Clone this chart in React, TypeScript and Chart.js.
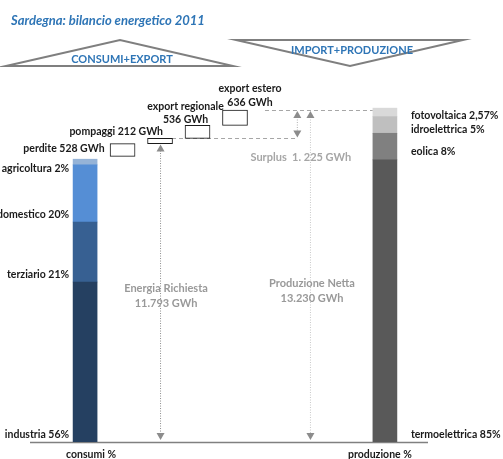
import React, { useEffect, useRef } from "react";
import { Chart, registerables } from "chart.js";

Chart.register(...registerables);

// ---------- data ----------
const titleText = "Sardegna: bilancio energetico 2011";
const leftHeader = "CONSUMI+EXPORT";
const rightHeader = "IMPORT+PRODUZIONE";
const axisLabels = ["consumi %", "produzione %"];

const energiaRichiesta = 11793; // GWh
const produzioneNetta = 13230; // GWh
const surplus = 1225; // GWh

const consumiNames = ["industria", "terziario", "domestico", "agricoltura"];
const consumiShares = [56, 21, 20, 2];

const flowNames = ["perdite", "pompaggi", "export regionale", "export estero"];
const flowValues = [528, 212, 536, 636];

const produzioneNames = ["termoelettrica", "eolica", "idroelettrica", "fotovoltaica"];
const produzioneShares = [85, 8, 5, 2.57];

// ---------- styles ----------
const consumiColors = ["#254061", "#376092", "#558ed5", "#95b3d7"];
const produzioneColors = ["#595959", "#808080", "#bfbfbf", "#d9d9d9"];
const FONT = "Lato, 'Open Sans', sans-serif";
const BLUE = "#2e75b6";
const TEXT = "#1a1a1a";

const X_CONSUMI = 0;
const X_FLOW = [1, 2, 3, 4];
const X_PROD = 8;

const fmt = (v: number) => String(Math.round(v)).replace(/\B(?=(\d{3})+(?!\d))/g, ".");
const pct = (v: number) => String(v).replace(".", ",") + "%";

// derived ranges
const flowStarts: number[] = [];
const flowEnds: number[] = [];
{
  let acc = energiaRichiesta;
  flowValues.forEach((v) => {
    flowStarts.push(acc);
    acc += v;
    flowEnds.push(acc);
  });
}
const chainTop = flowEnds[flowEnds.length - 1];

function stackRanges(shares: number[], total: number) {
  const out: [number, number][] = [];
  let acc = 0;
  shares.forEach((s) => {
    const v = (s / 100) * total;
    out.push([acc, acc + v]);
    acc += v;
  });
  return out;
}
const consumiRanges = stackRanges(consumiShares, energiaRichiesta);
const produzioneRanges = stackRanges(produzioneShares, chainTop);

function arrowHead(ctx: CanvasRenderingContext2D, x: number, y: number, dir: number, color: string) {
  ctx.save();
  ctx.fillStyle = color;
  ctx.beginPath();
  ctx.moveTo(x, y);
  ctx.lineTo(x - 4, y + dir * 7);
  ctx.lineTo(x + 4, y + dir * 7);
  ctx.closePath();
  ctx.fill();
  ctx.restore();
}

function dottedArrow(ctx: CanvasRenderingContext2D, x: number, y1: number, y2: number, lineColor: string, headColor: string) {
  ctx.save();
  ctx.strokeStyle = lineColor;
  ctx.lineWidth = 1;
  ctx.setLineDash([1, 1.5]);
  ctx.beginPath();
  ctx.moveTo(x + 0.5, y1 + 6);
  ctx.lineTo(x + 0.5, y2 - 6);
  ctx.stroke();
  ctx.restore();
  arrowHead(ctx, x + 0.5, y1, 1, headColor);
  arrowHead(ctx, x + 0.5, y2, -1, headColor);
}

const overlay = {
  id: "overlay",
  beforeDatasetsDraw(chart: any) {
    const { ctx, chartArea, scales } = chart;
    const x = scales.x;
    const y = scales.y;
    ctx.save();
    ctx.strokeStyle = "#a6a6a6";
    ctx.lineWidth = 1;
    ctx.setLineDash([4, 3]);
    // lower dashed line (top of pompaggi)
    const yl = Math.round(y.getPixelForValue(flowEnds[1])) + 0.5;
    ctx.beginPath();
    ctx.moveTo(x.getPixelForValue(X_FLOW[1]) + 12, yl);
    ctx.lineTo(x.getPixelForValue(5.65), yl);
    ctx.stroke();
    // upper dashed line (chain top)
    const yu = Math.round(y.getPixelForValue(chainTop)) + 0.5;
    ctx.beginPath();
    ctx.moveTo(x.getPixelForValue(4.8), yu);
    ctx.lineTo(x.getPixelForValue(X_PROD) - 12, yu);
    ctx.stroke();
    ctx.restore();

    // axis line
    ctx.save();
    ctx.strokeStyle = "#808080";
    ctx.lineWidth = 1.5;
    ctx.beginPath();
    ctx.moveTo(chartArea.left, chartArea.bottom + 0.5);
    ctx.lineTo(chartArea.right, chartArea.bottom + 0.5);
    ctx.stroke();
    ctx.restore();
  },
  afterDraw(chart: any) {
    const { ctx, chartArea, scales } = chart;
    const x = scales.x;
    const y = scales.y;
    ctx.save();

    // title
    ctx.font = `italic bold 13px ${FONT}`;
    ctx.fillStyle = BLUE;
    ctx.textAlign = "left";
    ctx.textBaseline = "middle";
    ctx.fillText(titleText, 11, 21);

    // header triangles
    ctx.strokeStyle = "#7f7f7f";
    ctx.lineWidth = 2;
    ctx.beginPath();
    ctx.moveTo(6, 66);
    ctx.lineTo(120, 40);
    ctx.lineTo(233, 66);
    ctx.closePath();
    ctx.stroke();
    ctx.beginPath();
    ctx.moveTo(236, 40);
    ctx.lineTo(463, 40);
    ctx.lineTo(350, 66);
    ctx.closePath();
    ctx.stroke();
    ctx.font = `bold 11px ${FONT}`;
    ctx.fillStyle = BLUE;
    ctx.textAlign = "center";
    ctx.fillText(leftHeader, 122, 59);
    ctx.fillText(rightHeader, 352, 50);

    // arrows
    const y0 = y.getPixelForValue(0);
    const xE = x.getPixelForValue(X_FLOW[1]);
    dottedArrow(ctx, xE, y.getPixelForValue(flowStarts[1]) + 1, y0 - 2, "#8c8c8c", "#8c8c8c");
    const xP = x.getPixelForValue(6);
    dottedArrow(ctx, xP, y.getPixelForValue(chainTop) + 1, y0 - 2, "#c8c8c8", "#8c8c8c");
    const xS = x.getPixelForValue(5.65);
    dottedArrow(ctx, xS, y.getPixelForValue(chainTop) + 1, y.getPixelForValue(flowEnds[1]) - 1, "#b0b0b0", "#8c8c8c");

    // grey annotations
    ctx.font = `bold 11px ${FONT}`;
    ctx.fillStyle = "#a6a6a6";
    ctx.textAlign = "center";
    ctx.fillText(`Surplus  ${fmt(surplus).replace(".", ". ")} GWh`, xS + 4, 157);
    ctx.fillStyle = "#999999";
    ctx.fillText("Energia Richiesta", xE + 6, 288);
    ctx.fillText(`${fmt(energiaRichiesta)} GWh`, xE + 6, 303);
    ctx.fillText("Produzione Netta", xP + 2, 283);
    ctx.fillText(`${fmt(produzioneNetta)} GWh`, xP + 2, 298);

    // consumi labels
    ctx.font = `bold 10.5px ${FONT}`;
    ctx.fillStyle = TEXT;
    ctx.textAlign = "right";
    const xc = x.getPixelForValue(X_CONSUMI);
    consumiNames.forEach((n, i) => {
      const top = y.getPixelForValue(consumiRanges[i][1]);
      const bot = y.getPixelForValue(consumiRanges[i][0]);
      const ly = Math.max(bot - 7, top + 9);
      ctx.fillText(`${n} ${pct(consumiShares[i])}`, xc - 16, ly);
    });

    // produzione labels
    ctx.textAlign = "left";
    const xp = x.getPixelForValue(X_PROD);
    const last = produzioneNames.length - 1;
    produzioneNames.forEach((n, i) => {
      const top = y.getPixelForValue(produzioneRanges[i][1]);
      const bot = y.getPixelForValue(produzioneRanges[i][0]);
      const mid = (top + bot) / 2;
      const ly = i === 0 ? bot - 7 : i === last ? mid + 3 : mid + 5;
      ctx.fillText(`${n} ${pct(produzioneShares[i])}`, xp + 26, ly);
    });

    // flow labels
    const fx = (i: number) => x.getPixelForValue(X_FLOW[i]);
    const ft = (i: number) => y.getPixelForValue(flowEnds[i]);
    const fb = (i: number) => y.getPixelForValue(flowStarts[i]);
    ctx.textAlign = "right";
    ctx.fillText(`${flowNames[0]} ${fmt(flowValues[0])} GWh`, fx(0) - 18, (ft(0) + fb(0)) / 2 - 1);
    ctx.fillText(`${flowNames[1]} ${fmt(flowValues[1])} GWh`, fx(1) + 3, ft(1) - 7);
    ctx.textAlign = "center";
    ctx.fillText(flowNames[2], fx(2) - 12, ft(2) - 19);
    ctx.fillText(`${fmt(flowValues[2])} GWh`, fx(2) - 12, ft(2) - 6);
    ctx.fillText(flowNames[3], fx(3) + 15, ft(3) - 21);
    ctx.fillText(`${fmt(flowValues[3])} GWh`, fx(3) + 15, ft(3) - 7);

    // axis labels
    ctx.textAlign = "center";
    ctx.fillText(axisLabels[0], xc + 6, chartArea.bottom + 13);
    ctx.fillText(axisLabels[1], xp - 5, chartArea.bottom + 13);

    ctx.restore();
  },
};

export default function App() {
  const ref = useRef<HTMLCanvasElement | null>(null);
  useEffect(() => {
    if (!ref.current) return;
    const datasets: any[] = [];
    consumiNames.forEach((n, i) => {
      datasets.push({
        label: n,
        data: [{ x: X_CONSUMI, y: consumiRanges[i] }],
        backgroundColor: consumiColors[i],
        borderWidth: 0,
        barThickness: 24,
      });
    });
    datasets.push({
      label: "flussi",
      data: flowNames.map((_, i) => ({ x: X_FLOW[i], y: [flowStarts[i], flowEnds[i]] })),
      backgroundColor: "#ffffff",
      borderColor: "#1a1a1a",
      borderWidth: 1,
      borderSkipped: false,
      barThickness: 25,
    });
    produzioneNames.forEach((n, i) => {
      datasets.push({
        label: n,
        data: [{ x: X_PROD, y: produzioneRanges[i] }],
        backgroundColor: produzioneColors[i],
        borderWidth: 0,
        barThickness: 24,
      });
    });
    const chart = new Chart(ref.current, {
      type: "bar",
      data: { datasets },
      options: {
        animation: false,
        responsive: false,
        grouped: false,
        layout: { padding: { left: 30, right: 75, top: 60, bottom: 17 } },
        plugins: { legend: { display: false }, tooltip: { enabled: false }, title: { display: false } },
        scales: {
          x: { type: "linear", min: -1.47, max: 9.15, offset: false, display: false },
          y: { min: 0, max: 15770, display: false },
        },
      } as any,
      plugins: [overlay],
    });
    return () => chart.destroy();
  }, []);
  return (
    <div style={{ position: "absolute", left: 0, top: 0, width: 503, height: 459, background: "#fff" }}>
      <canvas ref={ref} width={503} height={459} />
    </div>
  );
}
